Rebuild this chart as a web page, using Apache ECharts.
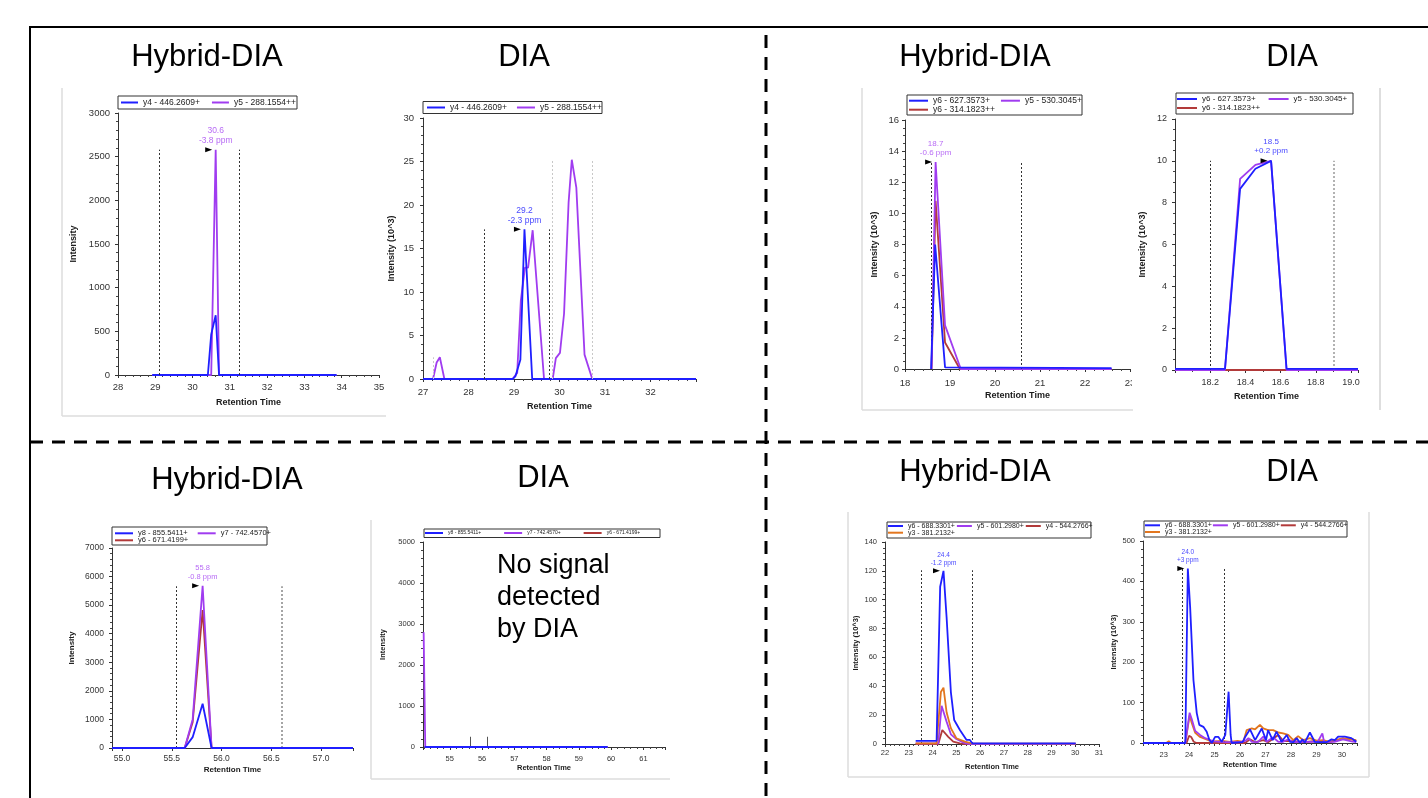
<!DOCTYPE html>
<html><head><meta charset="utf-8">
<script src="https://cdn.jsdelivr.net/npm/echarts@6/dist/echarts.min.js"></script>
<style>html,body{margin:0;padding:0;background:#fff}#c{width:1428px;height:798px}</style>
</head><body><div id="c"></div><script>
const FONT = 'Liberation Sans, Arial, Helvetica, sans-serif';
const C_BLUE = '#1f1fff', C_PURP = '#a03cf0', C_RED = '#b23a3a', C_ORNG = '#e2761f';
const T_BLUE = '#4a4aff', T_PURP = '#b86cf5';

// ---------- legend names ----------
const N1 = ['y4 - 446.2609+', 'y5 - 288.1554++'];
const N2 = ['y6 - 627.3573+', 'y5 - 530.3045+', 'y6 - 314.1823++'];
const N3 = ['y8 - 855.5411+', 'y7 - 742.4570+', 'y6 - 671.4199+'];
const N4 = ['y6 - 688.3301+', 'y5 - 601.2980+', 'y4 - 544.2766+', 'y3 - 381.2132+'];

// ---------- panel 1: top-left Hybrid-DIA ----------
const p1_xRange = [28, 35], p1_yRange = [0, 3000];
const p1_y4 = [[28.92,0],[30.41,0],[30.5,465],[30.62,685],[30.71,0],[33.86,0]];
const p1_y5 = [[28.92,0],[30.5,0],[30.62,2580],[30.71,0],[33.86,0]];
const p1_bounds = [29.1, 31.25], p1_boundTop = 2580;
const p1_peak = [30.62, 2580], p1_peakText = '30.6\n-3.8 ppm';

// ---------- panel 2: top-left DIA ----------
const p2_xRange = [27, 33], p2_yRange = [0, 30];
const p2_y4 = [[27,0],[28.97,0],[29.03,0.3],[29.14,2.2],[29.23,17.2],[29.4,0],[33,0]];
const p2_y5 = [[27,0],[27.22,0],[27.3,1.9],[27.37,2.5],[27.47,0],[28.97,0],[29.07,0.7],[29.15,9],[29.24,12.8],[29.31,12.8],[29.41,17.1],[29.66,0],[29.85,0],[29.92,2.4],[30.01,3],[30.1,7.5],[30.2,20.3],[30.27,25.2],[30.37,22],[30.55,2.8],[30.72,0],[33,0]];
const p2_bounds = [28.35, 29.77], p2_boundTop = 17.2;
const p2_grayBounds = [29.85, 30.72], p2_grayTop = 25.3;
const p2_grayBounds2 = [27.22], p2_grayTop2 = 2.5;
const p2_peak = [29.23, 17.2], p2_peakText = '29.2\n-2.3 ppm';

// ---------- panel 3: top-right Hybrid-DIA ----------
const p3_xRange = [18, 23], p3_yRange = [0, 16];
const p3_y6a = [[18.58,0],[18.67,8.0],[18.7,7.9],[18.89,0.1],[22.59,0.05]];
const p3_y5 = [[18.59,0],[18.68,13.3],[18.89,2.8],[19.24,0],[22.59,0]];
const p3_y6b = [[18.59,0],[18.68,10.8],[18.89,1.7],[19.22,0],[22.59,0]];
const p3_bounds = [18.59, 20.59], p3_boundTop = 13.3;
const p3_peak = [18.68, 13.3], p3_peakText = '18.7\n-0.6 ppm';

// ---------- panel 4: top-right DIA ----------
const p4_xRange = [18.0, 19.04], p4_yRange = [0, 12];
const p4_y6a = [[18.0,0.05],[18.284,0.05],[18.37,8.66],[18.457,9.62],[18.546,10],[18.634,0.05],[19.04,0.05]];
const p4_y5 = [[18.0,0],[18.284,0],[18.37,9.14],[18.457,9.81],[18.546,10],[18.634,0],[19.04,0]];
const p4_y6b = [[18.0,0],[19.04,0]];
const p4_bounds = [18.2], p4_bounds2 = [18.9], p4_boundTop = 10;
const p4_peak = [18.546, 10], p4_peakText = '18.5\n+0.2 ppm';

// ---------- panel 5: bottom-left Hybrid-DIA ----------
const p5_xRange = [54.9, 57.32], p5_yRange = [0, 7000];
const p5_y8 = [[54.9,0],[55.63,0],[55.71,380],[55.81,1550],[55.9,0],[57.32,0]];
const p5_y7 = [[54.9,0],[55.63,0],[55.71,1000],[55.81,5680],[55.9,0],[57.32,0]];
const p5_y6 = [[54.9,0],[55.63,0],[55.71,900],[55.81,4830],[55.9,0],[57.32,0]];
const p5_bounds = [55.55], p5_bounds2 = [56.6], p5_boundTop = 5660;
const p5_peak = [55.81, 5680], p5_peakText = '55.8\n-0.8 ppm';

// ---------- panel 6: bottom-left DIA ----------
const p6_xRange = [54.17, 61.67], p6_yRange = [0, 5000];
const p6_y8 = [[54.22,0],[59.89,0]];
const p6_y7 = [[54.19,2800],[54.24,0],[59.89,0]];
const p6_y6 = [[54.22,0],[59.89,0]];
const p6_marks = [55.64, 56.17], p6_markTop = 250;

// ---------- panel 7: bottom-right Hybrid-DIA ----------
const p7_xRange = [22, 31], p7_yRange = [0, 140];
const p7_y6 = [[23.29,2.1],[24.17,2.1],[24.32,109],[24.46,120],[24.59,88],[24.77,36],[24.91,16.6],[25.15,9.7],[25.43,2.8],[25.57,2.8],[25.67,0.5],[30.02,0.5]];
const p7_y5 = [[23.29,0.5],[24.24,0.5],[24.38,26.5],[24.46,27],[24.59,15.5],[24.77,6.7],[25.0,3.5],[25.29,1],[25.57,0],[30.02,0]];
const p7_y4 = [[23.29,0],[24.24,0],[24.41,9.7],[24.49,9.7],[24.66,5],[24.87,1.6],[25.15,0.5],[25.36,0],[30.02,0]];
const p7_y3 = [[23.29,0.5],[24.17,0.5],[24.35,36],[24.46,39],[24.59,22],[24.77,11],[25.0,4],[25.36,1.6],[25.64,0.5],[30.02,0.3]];
const p7_bounds = [23.54, 25.67], p7_boundTop = 120.4;
const p7_peak = [24.46, 120], p7_peakText = '24.4\n-1.2 ppm';

// ---------- panel 8: bottom-right DIA ----------
const p8_xRange = [22.19, 30.59], p8_yRange = [0, 500];
const p8_y6 = [[22.19,0],[23.85,0],[23.95,432],[24.04,337],[24.17,156],[24.3,74],[24.4,45],[24.56,40],[24.69,28],[24.8,7],[24.89,0],[25.02,15],[25.15,15],[25.28,3],[25.42,20],[25.55,127],[25.63,20],[25.67,0],[26.1,2],[26.2,15],[26.39,34],[26.59,7],[26.85,36],[27.02,7],[27.1,32],[27.17,28],[27.28,7],[27.43,28],[27.63,3],[27.83,20],[27.96,3],[28.09,2],[28.22,12],[28.35,1],[28.45,9],[28.54,1],[28.74,26],[28.93,3],[29.13,2],[29.39,2],[29.59,9],[29.72,7],[29.85,16],[30.11,16],[30.37,12],[30.56,3]];
const p8_y5 = [[22.19,0],[23.85,0],[24.02,75],[24.1,60],[24.24,30],[24.43,20],[24.63,12],[24.8,8],[24.96,4],[25.2,3],[25.5,2],[26.0,2],[26.2,5],[26.33,12],[26.46,3],[26.7,2],[26.91,16],[27.04,3],[27.3,14],[27.5,3],[27.69,3],[27.89,9],[28.1,2],[28.8,3],[29.05,3],[29.23,24],[29.3,2],[29.7,3],[30.04,9],[30.37,4],[30.56,2]];
const p8_y4 = [[22.19,0],[23.9,0],[24.0,18],[24.08,15],[24.18,3],[24.3,0],[26.2,0],[26.39,9],[26.6,2],[26.91,7],[27.1,2],[27.5,20],[27.7,5],[28.0,5],[28.5,2],[29.0,5],[29.5,2],[30.0,10],[30.4,10],[30.56,5]];
const p8_y3 = [[22.19,0],[23.1,0],[23.2,4],[23.3,0],[23.85,0],[24.02,68],[24.1,50],[24.24,25],[24.43,15],[24.63,10],[24.8,6],[25.0,4],[25.3,5],[25.6,3],[25.9,5],[26.13,3],[26.26,32],[26.46,36],[26.59,34],[26.78,45],[26.91,36],[27.1,32],[27.3,32],[27.5,26],[27.69,24],[27.89,20],[28.09,7],[28.28,17],[28.48,7],[28.74,12],[29.0,6],[29.26,7],[29.52,3],[29.78,7],[30.04,12],[30.3,9],[30.56,7]];
const p8_bounds = [23.72, 25.39], p8_boundTop = 434;
const p8_peak = [23.95, 432], p8_peakText = '24.0\n+3 ppm';

// ---------- builder ----------
const grids = [], xAxes = [], yAxes = [], series = [], legends = [];
const near = (v, step) => Math.abs(v / step - Math.round(v / step)) < 1e-6;
function addPanel(s) {
  const i = grids.length;
  grids.push({left: s.rect[0], top: s.rect[1], width: s.rect[2], height: s.rect[3], containLabel: false, outerBoundsMode: 'none'});
  const xa = {type: 'value', gridIndex: i, min: s.x[0], max: s.x[1], splitNumber: s.xSplit || 5,
    name: 'Retention Time', nameLocation: 'middle', nameGap: s.xGap,
    nameTextStyle: {fontWeight: 'bold', fontSize: s.nameFs, color: '#1a1a1a', fontFamily: FONT},
    axisLine: {show: true, onZero: false, lineStyle: {color: '#333', width: 1}},
    axisTick: {show: true, length: 3, lineStyle: {color: '#333'}},
    minorTick: {show: !!s.xMinor, splitNumber: s.xMinor || 5, length: 2, lineStyle: {color: '#444'}},
    splitLine: {show: false}, minorSplitLine: {show: false},
    axisLabel: {fontSize: s.tickFs, color: '#333', margin: s.xMargin, formatter: s.xFmt, fontFamily: FONT, showMinLabel: true, showMaxLabel: true, hideOverlap: false}};
  if (s.xInterval) xa.interval = s.xInterval;
  xAxes.push(xa);
  yAxes.push({type: 'value', gridIndex: i, min: s.y[0], max: s.y[1], interval: s.yInterval,
    name: s.yName, nameLocation: 'middle', nameRotate: 90, nameGap: s.yGap,
    nameTextStyle: {fontWeight: 'bold', fontSize: s.nameFs, color: '#1a1a1a', fontFamily: FONT},
    axisLine: {show: true, lineStyle: {color: '#333', width: 1}},
    axisTick: {show: true, length: 3, lineStyle: {color: '#333'}},
    minorTick: {show: true, splitNumber: s.yMinor || 5, length: 2, lineStyle: {color: '#444'}},
    splitLine: {show: false}, minorSplitLine: {show: false},
    axisLabel: {fontSize: s.tickFs, color: '#333', margin: s.yMargin, fontFamily: FONT, formatter: v => String(v)}});
  const base = series.length;
  s.series.forEach((d, k) => {
    series.push({type: 'line', name: d.name, data: d.data, xAxisIndex: i, yAxisIndex: i,
      symbol: 'none', showSymbol: false, lineStyle: {width: 1.8, color: d.color}, itemStyle: {color: d.color},
      z: 3 + k, animation: false, silent: true, emphasis: {disabled: true}});
  });
  const ml = [];
  (s.bounds || []).forEach(b => b.xs.forEach(x => ml.push([
    {coord: [x, 0], lineStyle: {color: b.color || '#333', type: b.type || [2, 2], width: b.w || 1}},
    {coord: [x, b.top]}])));
  if (ml.length) series[base].markLine = {silent: true, animation: false, symbol: ['none', 'none'], label: {show: false}, emphasis: {disabled: true}, data: ml};
  if (s.peak) {
    const p = s.peak;
    series[base + p.on].markPoint = {silent: true, animation: false, data: [
      {coord: p.at, symbol: 'triangle', symbolSize: [5, 7], symbolRotate: -90, symbolOffset: [-7, 0], itemStyle: {color: '#000'}, label: {show: false}},
      {coord: p.at, symbol: 'circle', symbolSize: 0, itemStyle: {color: 'rgba(0,0,0,0)'},
        label: {show: true, position: 'top', distance: p.dist || 4, formatter: p.text, color: p.color, fontSize: p.fs, lineHeight: p.fs + 1.5, fontFamily: FONT, align: 'center'}}]};
  }
  (s.legends || []).forEach(L => {
    legends.push({data: L.names, left: L.left, top: L.cy - (L.fs + 2) / 2, orient: 'horizontal', itemGap: L.gap,
      itemWidth: L.iw, itemHeight: 2, icon: 'rect', padding: 0, selectedMode: false,
      textStyle: {fontSize: L.fs, color: '#222', fontFamily: FONT, lineHeight: L.fs + 2}});
  });
}

const fmtInt = v => near(v, 1) ? String(Math.round(v)) : '';
addPanel({rect: [118, 113, 261, 262], x: p1_xRange, xInterval: 1, xMinor: 5, xGap: 23.5, xMargin: 7, xFmt: fmtInt,
  y: p1_yRange, yInterval: 500, yMinor: 5, yName: 'Intensity', yGap: 39.5, yMargin: 8, tickFs: 9.5, nameFs: 9,
  series: [{name: N1[1], color: C_PURP, data: p1_y5}, {name: N1[0], color: C_BLUE, data: p1_y4}],
  bounds: [{xs: p1_bounds, top: p1_boundTop}],
  peak: {on: 0, at: p1_peak, text: p1_peakText, color: T_PURP, fs: 8.5},
  legends: [{names: N1, left: 121, cy: 102.5, fs: 8.5, gap: 12, iw: 17}]});
addPanel({rect: [423, 118, 273, 261], x: p2_xRange, xInterval: 1, xMinor: 5, xGap: 23.5, xMargin: 8,
  xFmt: v => (near(v, 1) && v < 32.5) ? String(Math.round(v)) : '',
  y: p2_yRange, yInterval: 5, yMinor: 5, yName: 'Intensity (10^3)', yGap: 27, yMargin: 9, tickFs: 9.5, nameFs: 9,
  series: [{name: N1[1], color: C_PURP, data: p2_y5}, {name: N1[0], color: C_BLUE, data: p2_y4}],
  bounds: [{xs: p2_bounds, top: p2_boundTop}, {xs: p2_grayBounds, top: p2_grayTop, color: '#c8c8c8'}, {xs: p2_grayBounds2, top: p2_grayTop2, color: '#c8c8c8'}],
  peak: {on: 1, at: p2_peak, text: p2_peakText, color: T_BLUE, fs: 8.5},
  legends: [{names: N1, left: 427, cy: 107.5, fs: 8.5, gap: 10, iw: 18}]});
addPanel({rect: [905, 120, 225, 249], x: p3_xRange, xInterval: 1, xMinor: 5, xGap: 22.5, xMargin: 9, xFmt: fmtInt,
  y: p3_yRange, yInterval: 2, yMinor: 4, yName: 'Intensity (10^3)', yGap: 25.5, yMargin: 6, tickFs: 9.5, nameFs: 9,
  series: [{name: N2[2], color: C_RED, data: p3_y6b}, {name: N2[1], color: C_PURP, data: p3_y5}, {name: N2[0], color: C_BLUE, data: p3_y6a}],
  bounds: [{xs: p3_bounds, top: p3_boundTop}],
  peak: {on: 1, at: p3_peak, text: p3_peakText, color: T_PURP, fs: 8},
  legends: [{names: [N2[0], N2[1]], left: 909, cy: 100.7, fs: 8.5, gap: 11, iw: 19}, {names: [N2[2]], left: 909, cy: 109.7, fs: 8.5, gap: 11, iw: 19}]});
addPanel({rect: [1175, 119, 183, 251], x: p4_xRange, xInterval: 0.2, xMinor: 2, xGap: 22.5, xMargin: 8,
  xFmt: v => (near(v, 0.2) && v > 18.05 && v < 19.01) ? v.toFixed(1) : '',
  y: p4_yRange, yInterval: 2, yMinor: 4, yName: 'Intensity (10^3)', yGap: 27.5, yMargin: 8, tickFs: 9, nameFs: 9,
  series: [{name: N2[2], color: C_RED, data: p4_y6b}, {name: N2[1], color: C_PURP, data: p4_y5}, {name: N2[0], color: C_BLUE, data: p4_y6a}],
  bounds: [{xs: p4_bounds, top: p4_boundTop}, {xs: p4_bounds2, top: p4_boundTop, color: '#999', w: 1.5}],
  peak: {on: 2, at: p4_peak, text: p4_peakText, color: T_BLUE, fs: 8, dist: 5},
  legends: [{names: [N2[0], N2[1]], left: 1177, cy: 99, fs: 8, gap: 13, iw: 20}, {names: [N2[2]], left: 1177, cy: 108, fs: 8, gap: 13, iw: 20}]});
addPanel({rect: [112, 548, 241, 200], x: p5_xRange, xSplit: 5, xMinor: 0, xGap: 18, xMargin: 6,
  xFmt: v => near(v, 0.5) ? v.toFixed(1) : '',
  y: p5_yRange, yInterval: 1000, yMinor: 5, yName: 'Intensity', yGap: 36, yMargin: 8, tickFs: 8.5, nameFs: 8,
  series: [{name: N3[2], color: C_RED, data: p5_y6}, {name: N3[1], color: C_PURP, data: p5_y7}, {name: N3[0], color: C_BLUE, data: p5_y8}],
  bounds: [{xs: p5_bounds, top: p5_boundTop}, {xs: p5_bounds2, top: p5_boundTop, color: '#888', w: 1.5}],
  peak: {on: 1, at: p5_peak, text: p5_peakText, color: T_PURP, fs: 7.5},
  legends: [{names: [N3[0], N3[1]], left: 115, cy: 533.3, fs: 7.5, gap: 10, iw: 18}, {names: [N3[2]], left: 115, cy: 540.3, fs: 7.5, gap: 10, iw: 18}]});
addPanel({rect: [423, 542, 242, 205], x: p6_xRange, xSplit: 7, xMinor: 5, xGap: 17, xMargin: 7.5, xFmt: fmtInt,
  y: p6_yRange, yInterval: 1000, yMinor: 5, yName: 'Intensity', yGap: 36, yMargin: 8, tickFs: 7.5, nameFs: 7.5,
  series: [{name: N3[2], color: C_RED, data: p6_y6}, {name: N3[1], color: C_PURP, data: p6_y7}, {name: N3[0], color: C_BLUE, data: p6_y8}],
  bounds: [{xs: p6_marks, top: p6_markTop, color: '#555', type: 'solid'}],
  legends: [{names: N3, left: 425, cy: 533, fs: 5, gap: 23, iw: 18}]});
addPanel({rect: [885, 542, 214, 202], x: p7_xRange, xInterval: 1, xMinor: 5, xGap: 19, xMargin: 5, xFmt: fmtInt,
  y: p7_yRange, yInterval: 20, yMinor: 5, yName: 'Intensity (10^3)', yGap: 25, yMargin: 8, tickFs: 7.5, nameFs: 7.5,
  series: [{name: N4[2], color: C_RED, data: p7_y4}, {name: N4[1], color: C_PURP, data: p7_y5}, {name: N4[3], color: C_ORNG, data: p7_y3}, {name: N4[0], color: C_BLUE, data: p7_y6}],
  bounds: [{xs: p7_bounds, top: p7_boundTop}],
  peak: {on: 3, at: p7_peak, text: p7_peakText, color: T_BLUE, fs: 6.5},
  legends: [{names: [N4[0], N4[1], N4[2]], left: 888, cy: 526, fs: 7, gap: 2, iw: 15}, {names: [N4[3]], left: 888, cy: 532.7, fs: 7, gap: 2, iw: 15}]});
addPanel({rect: [1143, 541, 214, 202], x: p8_xRange, xSplit: 8, xMinor: 5, xGap: 18, xMargin: 7.5, xFmt: fmtInt,
  y: p8_yRange, yInterval: 100, yMinor: 5, yName: 'Intensity (10^3)', yGap: 25, yMargin: 8, tickFs: 7.5, nameFs: 7.5,
  series: [{name: N4[2], color: C_RED, data: p8_y4}, {name: N4[3], color: C_ORNG, data: p8_y3}, {name: N4[1], color: C_PURP, data: p8_y5}, {name: N4[0], color: C_BLUE, data: p8_y6}],
  bounds: [{xs: p8_bounds, top: p8_boundTop}],
  peak: {on: 3, at: p8_peak, text: p8_peakText, color: T_BLUE, fs: 6.5},
  legends: [{names: [N4[0], N4[1], N4[2]], left: 1145, cy: 525.3, fs: 7, gap: 1, iw: 15}, {names: [N4[3]], left: 1145, cy: 532, fs: 7, gap: 1, iw: 15}]});

// ---------- decorations ----------
const line = (x1, y1, x2, y2, st) => ({type: 'line', silent: true, z: 50, shape: {x1, y1, x2, y2}, style: Object.assign({stroke: '#000', lineWidth: 1}, st)});
const rect = (x, y, w, h, st, z) => ({type: 'rect', silent: true, z: z || 1, shape: {x, y, width: w, height: h}, style: st});
const text = (t, x, y, size, extra) => ({type: 'text', silent: true, z: 60, x, y, style: Object.assign({text: t, fill: '#000', fontSize: size, fontFamily: FONT, align: 'center', verticalAlign: 'middle', textAlign: 'center', textVerticalAlign: 'middle'}, extra || {})});
const PANEL = {stroke: '#dcdcdc', lineWidth: 1.5};
const BOX = {fill: 'none', stroke: '#333', lineWidth: 1};
const graphic = [
  line(62, 88, 62, 416, PANEL), line(62, 416, 386, 416, PANEL),
  line(862, 88, 862, 410, PANEL), line(862, 410, 1133, 410, PANEL),
  line(1380, 88, 1380, 410, {stroke: '#dedede', lineWidth: 2}),
  line(371, 520, 371, 779, PANEL), line(371, 779, 670, 779, PANEL),
  line(848, 512, 848, 777, PANEL), line(848, 777, 1100, 777, PANEL),
  line(1369, 512, 1369, 777, PANEL), line(1100, 777, 1369, 777, PANEL),
  rect(1132, 372, 10, 20, {fill: '#fff'}, 100),
  rect(118, 96, 179, 13, BOX, 1), rect(423, 101.5, 179, 12, BOX, 1), rect(907, 95, 175, 20, BOX, 1),
  rect(1176, 93, 177, 21, BOX, 1), rect(112, 527, 155, 18, BOX, 1), rect(424, 529, 236, 8.5, BOX, 1),
  rect(887, 522, 204, 16, BOX, 1), rect(1144, 521, 203, 16, BOX, 1),
  line(30, 27, 1428, 27, {lineWidth: 2}), line(30, 26, 30, 798, {lineWidth: 2}),
  line(766, 35, 766, 798, {lineWidth: 3, lineDash: [13, 9]}),
  line(30, 442, 1428, 442, {lineWidth: 3, lineDash: [13, 9]}),
  text('Hybrid-DIA', 207, 57, 31), text('DIA', 524, 57, 31),
  text('Hybrid-DIA', 975, 57, 31), text('DIA', 1292, 57, 31),
  text('Hybrid-DIA', 227, 480, 31), text('DIA', 543, 478, 31),
  text('Hybrid-DIA', 975, 472, 31), text('DIA', 1292, 472, 31),
  text('No signal\ndetected\nby DIA', 497, 598, 27, {align: 'left', textAlign: 'left', lineHeight: 32})
];

const chart = echarts.init(document.getElementById('c'), null, {renderer: 'canvas'});
chart.setOption({
  animation: false,
  backgroundColor: '#fff',
  textStyle: {fontFamily: FONT},
  grid: grids, xAxis: xAxes, yAxis: yAxes, series, legend: legends, graphic
});
</script></body></html>
